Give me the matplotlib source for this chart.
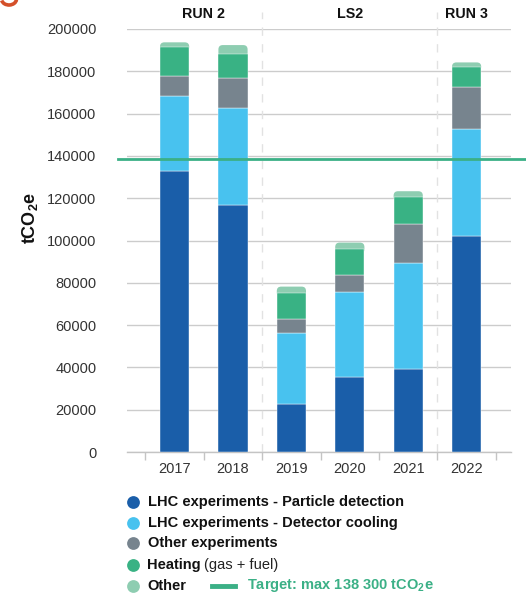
import matplotlib
matplotlib.use("Agg")
import matplotlib.pyplot as plt
from matplotlib.patches import FancyBboxPatch, Arc
from matplotlib.lines import Line2D

plt.rcParams["font.family"] = ["Liberation Sans", "DejaVu Sans"]
plt.rcParams["mathtext.fontset"] = "custom"
plt.rcParams["mathtext.rm"] = "Liberation Sans"
plt.rcParams["mathtext.bf"] = "Liberation Sans:bold"

# Emissions by year (tCO2e)
years = ["2017", "2018", "2019", "2020", "2021", "2022"]
particle_detection = [133000, 116800, 22700, 35600, 39400, 102100]
detector_cooling = [35300, 46000, 33700, 40200, 50100, 50500]
other_experiments = [9300, 14000, 6600, 7700, 18300, 20100]
heating = [13800, 11400, 12300, 12300, 12900, 9500]
other = [2300, 4200, 2900, 3200, 2600, 2000]

series_names = [
    "LHC experiments - Particle detection",
    "LHC experiments - Detector cooling",
    "Other experiments",
    "Heating",
    "Other",
]
series_colors = ["#1a5ea9", "#48c2ef", "#77848e", "#39b284", "#8ecdb1"]

periods = ["RUN 2", "LS2", "RUN 3"]
period_centers = [0.5, 3.0, 5.0]
period_bounds = [1.5, 4.5]

target = 138300
target_color = "#3bb086"

W, H = 526, 599
fig = plt.figure(figsize=(W / 100, H / 100), dpi=100)
ax = fig.add_axes([127 / W, 1 - 452 / H, 384 / W, 423 / H])

x = list(range(len(years)))
width = 0.5
ax.set_xlim(-0.815, 5.76)
ax.set_ylim(0, 200000)

# px -> data scale, used to keep the rounded top corners circular
px_x = 58.4
px_y = 423 / 200000
aspect = (1 / px_y) / (1 / px_x)

stack = [particle_detection, detector_cooling, other_experiments, heating]
bottoms = [0.0] * len(years)
for vals, col in zip(stack, series_colors[:4]):
    ax.bar(x, vals, width, bottom=bottoms, color=col, edgecolor="white",
           linewidth=0.3, zorder=3)
    bottoms = [b + v for b, v in zip(bottoms, vals)]

# top segment with rounded upper corners (lower corners hidden behind heating)
rad = 0.075
for xi, b, v in zip(x, bottoms, other):
    ext = rad * aspect
    patch = FancyBboxPatch((xi - width / 2, b - ext), width, v + ext,
                           boxstyle=f"round,pad=0,rounding_size={rad}",
                           mutation_aspect=aspect,
                           facecolor=series_colors[4], edgecolor="none",
                           zorder=2.5)
    ax.add_patch(patch)

# grid and axes styling
for s in ["top", "right", "left"]:
    ax.spines[s].set_visible(False)
ax.spines["bottom"].set_color("#c4c4c4")
ax.spines["bottom"].set_linewidth(1)
ax.set_yticks(range(0, 200001, 20000))
ax.yaxis.grid(True, color="#cccccc", linewidth=1, zorder=0)
ax.set_axisbelow(True)
ax.tick_params(axis="y", length=0, pad=22, labelsize=10.5, labelcolor="#333333")
ax.set_xticks(x)
ax.set_xticklabels(years)
ax.set_xticks([i - 0.5 for i in range(len(years) + 1)], minor=True)
ax.tick_params(axis="x", which="major", length=0, pad=7, labelsize=10.5,
               labelcolor="#333333")
ax.tick_params(axis="x", which="minor", length=6, color="#c4c4c4", width=1)

for xb in period_bounds:
    ax.plot([xb, xb], [0, 1.04], transform=ax.get_xaxis_transform(),
            color="#e2e2e2", linewidth=1, dashes=(6, 6), clip_on=False, zorder=1)

for name, xc in zip(periods, period_centers):
    ax.text(xc, 1.035, name, transform=ax.get_xaxis_transform(),
            ha="center", va="center", fontsize=10.3, fontweight="bold",
            color="#111111")

ax.set_ylabel(r"tCO$_\mathbf{2}$e", fontsize=13, fontweight="bold",
              color="#111111")
ax.yaxis.set_label_coords((40 - 127) / 384, (452 - 218) / 423)

# target line running past the plot edges
ax.plot([-0.97, 6.0], [target, target], color=target_color, linewidth=2,
        clip_on=False, zorder=4)

# hook of the heading lettering peeking in at the corner
fig.add_artist(Arc((9 / W, 1 + 1 / H), 15 / W, 12 / H, theta1=190, theta2=355,
                   color="#d4502a", linewidth=2.6, transform=fig.transFigure))

# legend
rows_y = [502.3, 522.7, 543.3, 565.0, 585.7]
mk_x = 132.7 / W
txt_x = 147.5 / W
fs = 10.5
fig.canvas.draw()
renderer = fig.canvas.get_renderer()
for name, col, yp in zip(series_names, series_colors, rows_y):
    fy = 1 - yp / H
    fig.add_artist(Line2D([mk_x], [fy], marker="o", markersize=9.2,
                          markerfacecolor=col, markeredgecolor="none",
                          linestyle="none", transform=fig.transFigure))
    t = fig.text(txt_x, fy, name, fontsize=fs, fontweight="bold",
                 color="#111111", ha="left", va="center")
    if name == "Heating":
        bb = t.get_window_extent(renderer)
        fig.text(bb.x1 / W + 3 / W, fy, "(gas + fuel)", fontsize=fs,
                 color="#222222", ha="left", va="center")

fy = 1 - rows_y[-1] / H
fig.add_artist(Line2D([212 / W, 235 / W], [fy, fy], color=target_color,
                      linewidth=3.5, transform=fig.transFigure))
fig.text(246.7 / W, fy, r"Target: max 138 300 tCO$_\mathbf{2}$e",
         fontsize=fs, fontweight="bold", color=target_color,
         ha="left", va="center")

fig.savefig("out.png", dpi=100)
